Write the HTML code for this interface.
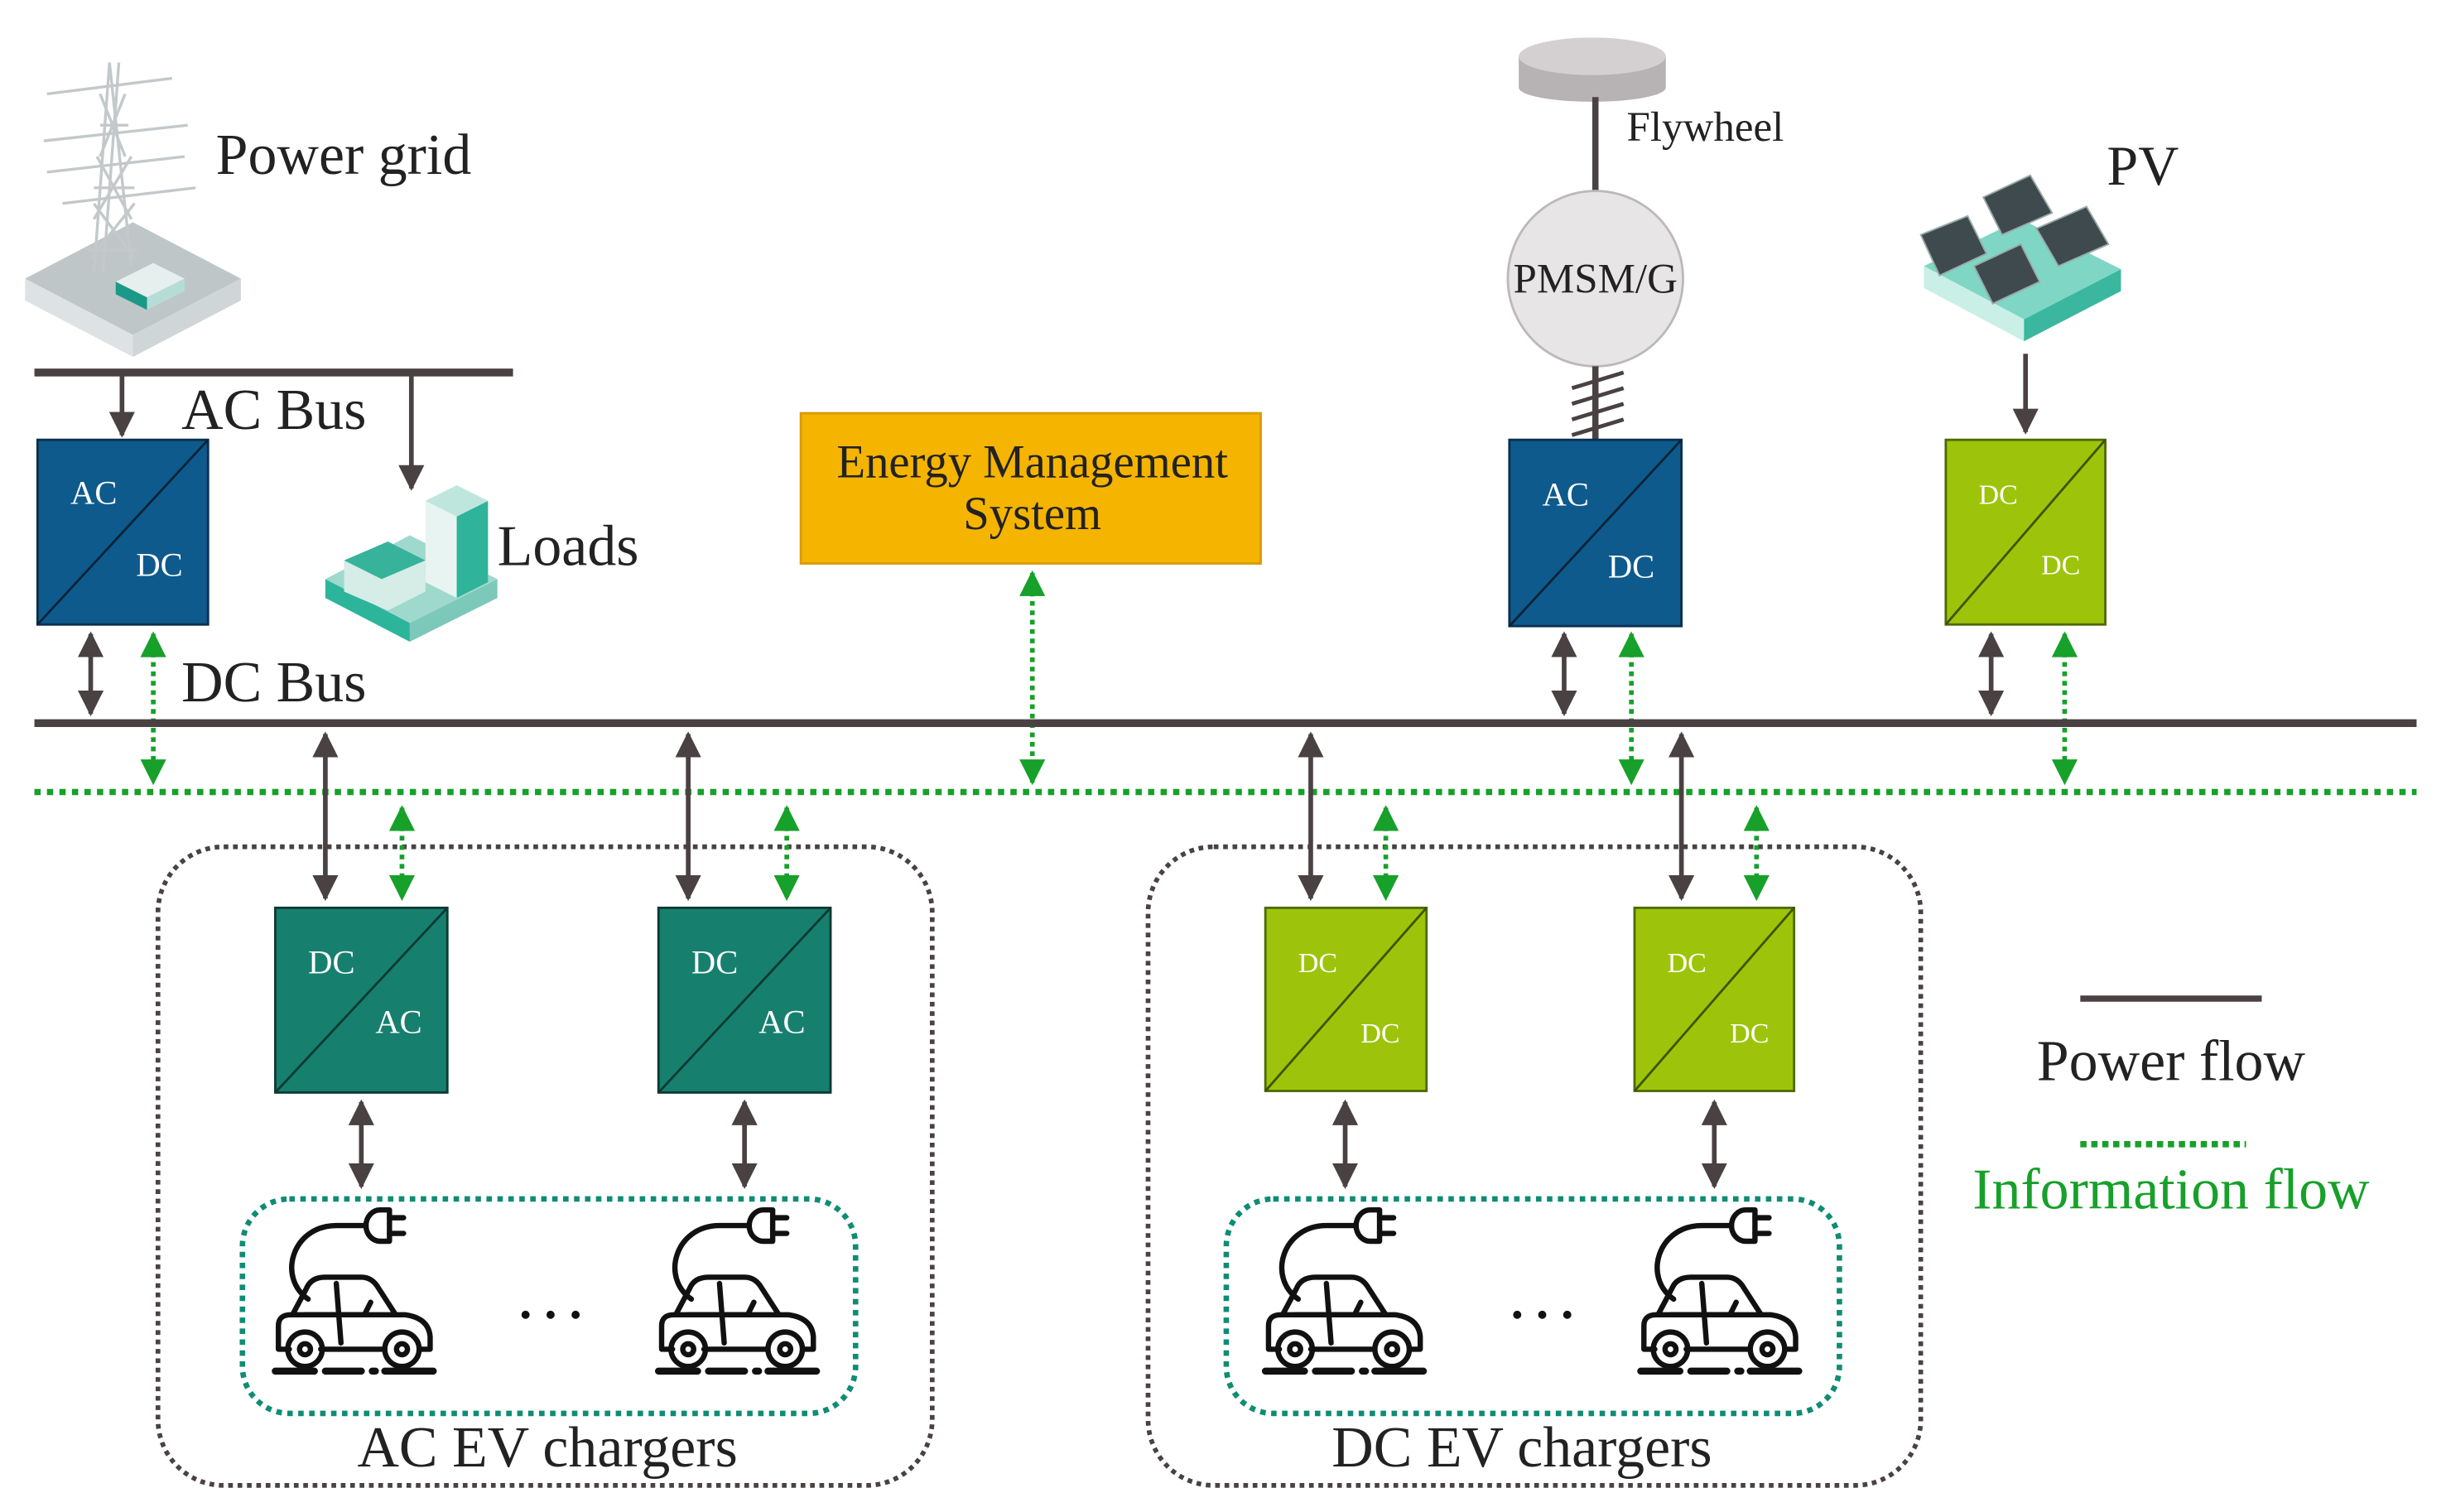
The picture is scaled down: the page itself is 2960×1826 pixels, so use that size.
<!DOCTYPE html>
<html><head><meta charset="utf-8"><style>html,body{margin:0;padding:0;background:#fff}svg{display:block}</style></head>
<body>
<svg width="2960" height="1826" viewBox="0 0 1567 966" preserveAspectRatio="none" xmlns="http://www.w3.org/2000/svg" font-family="'Liberation Serif', serif">
<defs>
<marker id="ad" viewBox="0 0 10 10" refX="9" refY="5" markerWidth="5.5" markerHeight="5.5" orient="auto-start-reverse"><path d="M0,0 L10,5 L0,10 z" fill="#4a4142"/></marker>
<marker id="ag" viewBox="0 0 10 10" refX="9" refY="5" markerWidth="6" markerHeight="5.5" orient="auto-start-reverse"><path d="M0,0 L10,5 L0,10 z" fill="#17a02a"/></marker>
<g id="car" fill="none" stroke="#111" stroke-width="3.4" stroke-linecap="round" stroke-linejoin="round">
<path d="M76 5 h-6 a9 10 0 0 0 0 20 h6 z"/><path d="M76 10 H85 M76 20 H85"/>
<path d="M61 15 H42 C14 15 4 48 24 62"/>
<path d="M14 72 L23 55 Q26 48 35 48 H58 Q65 48 69 55 L80 72"/>
<path d="M12 94 H5 V79 Q5 72 13 72 H86 Q101 74 102 86 V94 H96 M32 94 H72"/>
<path d="M42 52 L45 90 M22 72 H60 M60 72 L64 64"/>
<circle cx="22" cy="94" r="11"/><circle cx="22" cy="94" r="3.5"/>
<circle cx="84" cy="94" r="11"/><circle cx="84" cy="94" r="3.5"/>
<path d="M3 108 H28 M35 108 H58 M65 108 H67 M73 108 H104" stroke-width="4.5"/>
</g>
</defs>
<rect width="1567" height="966" fill="#fff"/>

<!-- Power grid icon -->
<polygon points="16,178 85,142 154,178 85,214" fill="#bfc6c7"/>
<polygon points="16,178 85,214 85,228 16,192" fill="#dde3e4"/>
<polygon points="154,178 85,214 85,228 154,192" fill="#cfd6d7"/>
<g stroke="#c3c9ca" stroke-width="1.8" fill="none">
<path d="M60 175 L70 40 L84 170 M66 175 L76 40 M56 160 L88 160 M60 120 L86 120 M64 80 L82 80 M60 140 L84 100 M84 140 L62 100 M58 165 L86 130 M86 165 L60 130 M64 100 L80 60 M80 100 L64 60"/>
<path d="M30 60 L110 50 M28 90 L120 80 M30 110 L118 100 M40 130 L125 120"/>
</g>
<polygon points="74,180 98,168 118,178 94,190" fill="#e6eeee"/>
<polygon points="74,180 94,190 94,198 74,188" fill="#1a9a86"/>
<polygon points="94,190 118,178 118,186 94,198" fill="#b6dcd6"/>
<text x="138" y="111" font-size="37" fill="#222">Power grid</text>

<!-- AC bus -->
<line x1="22" y1="238" x2="328" y2="238" stroke="#4a4142" stroke-width="5"/>
<line x1="78" y1="238" x2="78" y2="278" stroke="#4a4142" stroke-width="3" marker-end="url(#ad)"/>
<line x1="263" y1="238" x2="263" y2="312" stroke="#4a4142" stroke-width="3" marker-end="url(#ad)"/>
<text x="116" y="274" font-size="37" fill="#222">AC Bus</text>

<!-- Loads icon -->
<polygon points="208,370 262,342 318,370 262,398" fill="#9fd9cd"/>
<polygon points="208,370 262,398 262,410 208,382" fill="#2cb59b"/>
<polygon points="318,370 262,398 262,410 318,382" fill="#7cc9b9"/>
<polygon points="272,320 292,310 312,320 312,372 292,382 272,372" fill="#e8f4f1"/>
<polygon points="292,330 312,320 312,372 292,382" fill="#2fb39b"/>
<polygon points="272,320 292,310 312,320 292,330" fill="#bfe6dd"/>
<polygon points="220,358 248,346 272,358 272,378 248,390 220,378" fill="#d5ece7"/>
<polygon points="220,358 248,346 272,358 244,370" fill="#37b39c"/>
<text x="318" y="361" font-size="37" fill="#222">Loads</text>

<!-- AC/DC left -->
<rect x="24" y="281" width="109" height="118" fill="#0e5a8d" stroke="#0a2f4f" stroke-width="1.5"/>
<line x1="24" y1="399" x2="133" y2="281" stroke="#0a2438" stroke-width="1.5"/>
<text x="45" y="322" font-size="21.5" fill="#fff">AC</text>
<text x="87" y="368" font-size="21.5" fill="#fff">DC</text>
<line x1="58" y1="405" x2="58" y2="456" stroke="#4a4142" stroke-width="3" marker-start="url(#ad)" marker-end="url(#ad)"/>
<line x1="98" y1="405" x2="98" y2="500" stroke="#17a02a" stroke-width="3" stroke-dasharray="3 3" marker-start="url(#ag)" marker-end="url(#ag)"/>
<text x="116" y="448" font-size="37" fill="#222">DC Bus</text>

<!-- EMS -->
<rect x="512" y="264" width="294" height="96" fill="#f5b400" stroke="#d99c00" stroke-width="1.5"/>
<text x="660" y="305" font-size="30" fill="#222" text-anchor="middle">Energy Management</text>
<text x="660" y="338" font-size="30" fill="#222" text-anchor="middle">System</text>
<line x1="660" y1="366" x2="660" y2="500" stroke="#17a02a" stroke-width="3" stroke-dasharray="3 3" marker-start="url(#ag)" marker-end="url(#ag)"/>

<!-- Flywheel -->
<rect x="971" y="36" width="94" height="20" fill="#b7b2b3"/>
<ellipse cx="1018" cy="56" rx="47" ry="9" fill="#b7b2b3"/>
<ellipse cx="1018" cy="36" rx="47" ry="12" fill="#d4d0d1"/>
<line x1="1020" y1="62" x2="1020" y2="122" stroke="#4a4142" stroke-width="4"/>
<text x="1040" y="90" font-size="27" fill="#222">Flywheel</text>
<circle cx="1020" cy="178" r="56" fill="#e8e5e6" stroke="#bdb8b9" stroke-width="1.5"/>
<text x="1020" y="187" font-size="27" fill="#222" text-anchor="middle">PMSM/G</text>
<line x1="1020" y1="234" x2="1020" y2="281" stroke="#4a4142" stroke-width="4"/>
<path d="M1005 248 L1038 238 M1005 258 L1038 248 M1005 268 L1038 258 M1005 278 L1038 268" stroke="#4a4142" stroke-width="2.5"/>

<rect x="965" y="281" width="110" height="119" fill="#0e5a8d" stroke="#0a2f4f" stroke-width="1.5"/>
<line x1="965" y1="400" x2="1075" y2="281" stroke="#0a2438" stroke-width="1.5"/>
<text x="986" y="323" font-size="21.5" fill="#fff">AC</text>
<text x="1028" y="369" font-size="21.5" fill="#fff">DC</text>
<line x1="1000" y1="405" x2="1000" y2="456" stroke="#4a4142" stroke-width="3" marker-start="url(#ad)" marker-end="url(#ad)"/>
<line x1="1043" y1="405" x2="1043" y2="500" stroke="#17a02a" stroke-width="3" stroke-dasharray="3 3" marker-start="url(#ag)" marker-end="url(#ag)"/>

<!-- PV -->
<polygon points="1230,170 1292,140 1356,172 1294,204" fill="#7fd6c4"/>
<polygon points="1230,170 1294,204 1294,218 1230,184" fill="#c9efe6"/>
<polygon points="1356,172 1294,204 1294,218 1356,186" fill="#3bb79f"/>
<g fill="#3e4a4d" stroke="#9aa" stroke-width="1">
<polygon points="1228,150 1258,138 1270,162 1240,176"/>
<polygon points="1268,126 1298,112 1312,136 1280,150"/>
<polygon points="1262,170 1292,156 1304,180 1274,194"/>
<polygon points="1302,146 1334,132 1348,156 1316,170"/>
</g>
<text x="1347" y="118" font-size="36" fill="#222">PV</text>
<line x1="1295" y1="226" x2="1295" y2="276" stroke="#4a4142" stroke-width="3" marker-end="url(#ad)"/>
<rect x="1244" y="281" width="102" height="118" fill="#9dc40b" stroke="#4d6a05" stroke-width="1.5"/>
<line x1="1244" y1="399" x2="1346" y2="281" stroke="#3d5502" stroke-width="1.5"/>
<text x="1265" y="322" font-size="18" fill="#fff">DC</text>
<text x="1305" y="367" font-size="18" fill="#fff">DC</text>
<line x1="1273" y1="405" x2="1273" y2="456" stroke="#4a4142" stroke-width="3" marker-start="url(#ad)" marker-end="url(#ad)"/>
<line x1="1320" y1="405" x2="1320" y2="500" stroke="#17a02a" stroke-width="3" stroke-dasharray="3 3" marker-start="url(#ag)" marker-end="url(#ag)"/>

<!-- buses -->
<line x1="22" y1="462" x2="1545" y2="462" stroke="#4a4142" stroke-width="5"/>
<line x1="22" y1="506" x2="1545" y2="506" stroke="#17a02a" stroke-width="4" stroke-dasharray="4 4"/>

<!-- groups -->
<rect x="101" y="541" width="495" height="408" rx="42" fill="none" stroke="#4a4142" stroke-width="3" stroke-dasharray="3 3"/>
<rect x="734" y="541" width="494" height="408" rx="42" fill="none" stroke="#4a4142" stroke-width="3" stroke-dasharray="3 3"/>
<rect x="155" y="766" width="392" height="137" rx="30" fill="none" stroke="#0f8c74" stroke-width="3.5" stroke-dasharray="3.5 3.5"/>
<rect x="784" y="766" width="392" height="137" rx="30" fill="none" stroke="#0f8c74" stroke-width="3.5" stroke-dasharray="3.5 3.5"/>

<!-- bus to converters -->
<g stroke="#4a4142" stroke-width="3">
<line x1="208" y1="469" x2="208" y2="574" marker-start="url(#ad)" marker-end="url(#ad)"/>
<line x1="440" y1="469" x2="440" y2="574" marker-start="url(#ad)" marker-end="url(#ad)"/>
<line x1="838" y1="469" x2="838" y2="574" marker-start="url(#ad)" marker-end="url(#ad)"/>
<line x1="1075" y1="469" x2="1075" y2="574" marker-start="url(#ad)" marker-end="url(#ad)"/>
<line x1="231" y1="704" x2="231" y2="758" marker-start="url(#ad)" marker-end="url(#ad)"/>
<line x1="476" y1="704" x2="476" y2="758" marker-start="url(#ad)" marker-end="url(#ad)"/>
<line x1="860" y1="704" x2="860" y2="758" marker-start="url(#ad)" marker-end="url(#ad)"/>
<line x1="1096" y1="704" x2="1096" y2="758" marker-start="url(#ad)" marker-end="url(#ad)"/>
</g>
<g stroke="#17a02a" stroke-width="3" stroke-dasharray="3 3">
<line x1="257" y1="516" x2="257" y2="574" marker-start="url(#ag)" marker-end="url(#ag)"/>
<line x1="503" y1="516" x2="503" y2="574" marker-start="url(#ag)" marker-end="url(#ag)"/>
<line x1="886" y1="516" x2="886" y2="574" marker-start="url(#ag)" marker-end="url(#ag)"/>
<line x1="1123" y1="516" x2="1123" y2="574" marker-start="url(#ag)" marker-end="url(#ag)"/>
</g>

<!-- DC/AC boxes -->
<rect x="176" y="580" width="110" height="118" fill="#177f6e" stroke="#0b3b33" stroke-width="1.5"/>
<line x1="176" y1="698" x2="286" y2="580" stroke="#0b3b33" stroke-width="1.5"/>
<text x="197" y="622" font-size="21.5" fill="#fff">DC</text>
<text x="240" y="660" font-size="21.5" fill="#fff">AC</text>
<rect x="421" y="580" width="110" height="118" fill="#177f6e" stroke="#0b3b33" stroke-width="1.5"/>
<line x1="421" y1="698" x2="531" y2="580" stroke="#0b3b33" stroke-width="1.5"/>
<text x="442" y="622" font-size="21.5" fill="#fff">DC</text>
<text x="485" y="660" font-size="21.5" fill="#fff">AC</text>

<rect x="809" y="580" width="103" height="117" fill="#9dc40b" stroke="#4d6a05" stroke-width="1.5"/>
<line x1="809" y1="697" x2="912" y2="580" stroke="#3d5502" stroke-width="1.5"/>
<text x="830" y="621" font-size="18" fill="#fff">DC</text>
<text x="870" y="666" font-size="18" fill="#fff">DC</text>
<rect x="1045" y="580" width="102" height="117" fill="#9dc40b" stroke="#4d6a05" stroke-width="1.5"/>
<line x1="1045" y1="697" x2="1147" y2="580" stroke="#3d5502" stroke-width="1.5"/>
<text x="1066" y="621" font-size="18" fill="#fff">DC</text>
<text x="1106" y="666" font-size="18" fill="#fff">DC</text>

<!-- cars -->
<use href="#car" x="173" y="768"/>
<use href="#car" x="418" y="768"/>
<use href="#car" x="806" y="768"/>
<use href="#car" x="1046" y="768"/>
<g fill="#111"><circle cx="336" cy="840" r="2.6"/><circle cx="352" cy="840" r="2.6"/><circle cx="368" cy="840" r="2.6"/>
<circle cx="970" cy="840" r="2.6"/><circle cx="986" cy="840" r="2.6"/><circle cx="1002" cy="840" r="2.6"/></g>

<text x="350" y="937" font-size="37" fill="#222" text-anchor="middle">AC EV chargers</text>
<text x="973" y="937" font-size="37" fill="#222" text-anchor="middle">DC EV chargers</text>

<!-- legend -->
<line x1="1330" y1="638" x2="1446" y2="638" stroke="#4a4142" stroke-width="4"/>
<text x="1388" y="690" font-size="37" fill="#222" text-anchor="middle">Power flow</text>
<line x1="1330" y1="731" x2="1436" y2="731" stroke="#17a02a" stroke-width="4" stroke-dasharray="4 3"/>
<text x="1388" y="772" font-size="37" fill="#17a02a" text-anchor="middle">Information flow</text>
</svg>
</body></html>
